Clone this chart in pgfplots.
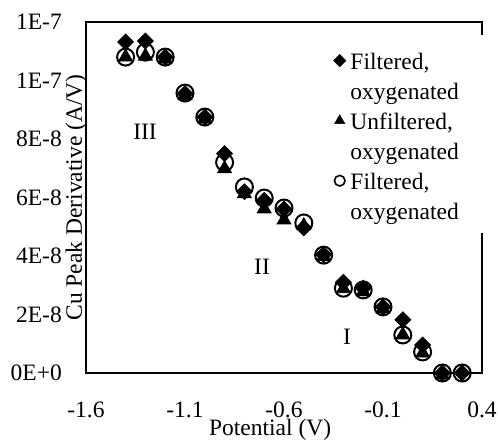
\documentclass[border=0pt]{standalone}
\usepackage{fontspec}
\setmainfont{Liberation Serif}
\usepackage{pgfplots}
\pgfplotsset{compat=1.18}

\begin{document}
\begin{tikzpicture}[font=\fontsize{23.5bp}{29bp}\selectfont]
\path[use as bounding box] (0bp,0bp) rectangle (498bp,441bp);
\begin{axis}[
  at={(86bp,68bp)}, anchor=south west,
  scale only axis, width=396bp, height=351bp,
  xmin=-1.6, xmax=0.4, ymin=0, ymax=1.2e-7,
  clip=false,
  axis line style={line width=1.8bp},
  major tick length=0pt,
  xtick={-1.6,-1.1,-0.6,-0.1,0.4},
  xticklabels={-1.6,-1.1,-0.6,-0.1,0.4},
  ytick={0,2e-8,4e-8,6e-8,8e-8,1e-7,1.2e-7},
  yticklabels={0E+0,2E-8,4E-8,6E-8,8E-8,1E-7,1E-7},
  scaled y ticks=false,
  xticklabel style={anchor=base, inner sep=0pt, yshift=-44bp},
  yticklabel style={anchor=east, inner sep=0pt, xshift=-24bp},
  xlabel={Potential (V)},
  ylabel={Cu Peak Derivative (A/V)},
  xlabel style={at={(axis description cs:0.465,0)}, anchor=base, inner sep=0pt, yshift=-62bp},
  ylabel style={at={(axis description cs:-0.0101,0.5)}, anchor=base, inner sep=0pt},
  legend style={at={(axis description cs:0.9419,0.9117)}, anchor=north east,
    draw=none, fill=none, inner sep=0pt,
    nodes={inner sep=0pt, text height=16bp, text depth=5bp},
    column sep=4.5bp, row sep=9bp,
    cells={anchor=base west}},
  legend image code/.code={\path (0bp,0bp); \draw[#1] plot coordinates {(0bp,8.5bp)};},
]
% diamond: filtered, oxygenated
\addplot[only marks, mark=square*, mark size=5.6bp, forget plot,
  mark options={rotate=45, fill=black, draw=black, line width=0.8bp}] coordinates {
(-1.4,1.132e-7) (-1.3,1.135e-7) (-1.2,1.08e-7) (-1.1,9.55e-8) (-1.0,8.75e-8)
(-0.9,7.5e-8) (-0.8,6.2e-8) (-0.7,5.9e-8) (-0.6,5.6e-8) (-0.5,4.96e-8)
(-0.4,4.05e-8) (-0.3,3.1e-8) (-0.2,2.9e-8) (-0.1,2.26e-8) (0.0,1.82e-8)
(0.1,9.6e-9) (0.2,0) (0.3,0)};
% triangle: unfiltered, oxygenated
\addplot[only marks, mark=triangle*, mark size=8bp, forget plot,
  mark options={fill=black, draw=black, line width=0.8bp, yshift=-2bp}] coordinates {
(-1.4,1.087e-7) (-1.3,1.09e-7) (-1.2,1.08e-7) (-1.1,9.55e-8) (-1.0,8.75e-8)
(-0.9,7.05e-8) (-0.8,6.2e-8) (-0.7,5.68e-8) (-0.6,5.3e-8) (-0.5,5.1e-8)
(-0.4,4.05e-8) (-0.3,2.95e-8) (-0.2,2.85e-8) (-0.1,2.26e-8) (0.0,1.37e-8)
(0.1,7.5e-9) (0.2,0)};
% circle: filtered, oxygenated
\addplot[only marks, mark=o, mark size=8.5bp, forget plot,
  mark options={draw=black, line width=2bp}] coordinates {
(-1.4,1.08e-7) (-1.3,1.097e-7) (-1.2,1.08e-7) (-1.1,9.57e-8) (-1.0,8.75e-8)
(-0.9,7.2e-8) (-0.8,6.36e-8) (-0.7,5.98e-8) (-0.6,5.64e-8) (-0.5,5.13e-8)
(-0.4,4.03e-8) (-0.3,2.9e-8) (-0.2,2.84e-8) (-0.1,2.26e-8) (0.0,1.3e-8)
(0.1,7.2e-9) (0.2,0) (0.3,0)};
\addlegendimage{only marks, mark=square*, mark size=4.4bp, mark options={rotate=45, fill=black}}
\addlegendentry{Filtered,}
\addlegendimage{empty legend}
\addlegendentry{oxygenated}
\addlegendimage{only marks, mark=triangle*, mark size=6bp, mark options={fill=black}}
\addlegendentry{Unfiltered,}
\addlegendimage{empty legend}
\addlegendentry{oxygenated}
\addlegendimage{only marks, mark=o, mark size=5.3bp, mark options={line width=1.6bp}}
\addlegendentry{Filtered,}
\addlegendimage{empty legend}
\addlegendentry{oxygenated}
\node at (axis cs:-1.302,8.24e-8) {III};
\node at (axis cs:-0.711,3.62e-8) {II};
\node at (axis cs:-0.282,1.23e-8) {I};
\end{axis}
% white legend box over the right frame
\fill[white] (479bp,208bp) rectangle (486bp,406bp);
\end{tikzpicture}
\end{document}
